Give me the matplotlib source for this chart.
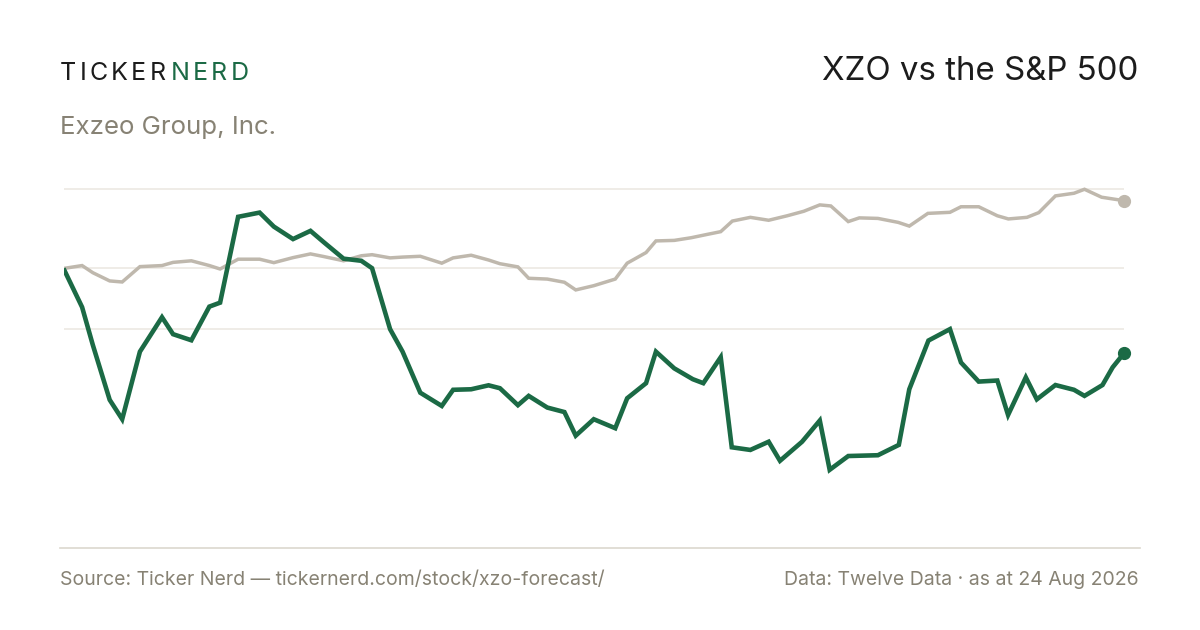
import matplotlib
matplotlib.use("Agg")
import matplotlib.pyplot as plt
from matplotlib.lines import Line2D

# day offsets (0 = 24 Aug 2025) and % change since start
xzo_days = [0, 6.4, 10.1, 15.9, 20.2, 26.3, 33.9, 37.7, 44.0, 50.2, 53.9, 60.1,
            67.5, 72.4, 79.0, 85.0, 89.6, 96.4, 102.5, 106.2, 112.4, 116.7, 122.8,
            130.2, 134.1, 140.3, 146.3, 150.2, 156.4, 160.1, 166.5, 172.4, 176.3,
            182.5, 189.9, 194.0, 200.5, 203.9, 210.2, 216.6, 220.2, 226.2, 230.0,
            236.4, 242.7, 246.6, 254.2, 260.3, 263.7, 270.1, 280.3, 287.5, 291.1,
            297.7, 305.1, 308.9, 315.0, 321.4, 325.1, 331.2, 335.0, 341.4, 347.8,
            351.4, 357.6, 361.1, 365]
xzo_pct = [0, -14.6, -28.9, -49.6, -56.9, -31.4, -18.4, -24.8, -27.1, -14.4, -12.9,
           19.5, 21.1, 15.8, 11.1, 14.2, 9.9, 3.7, 2.9, 0.1, -22.9, -31.4, -46.9,
           -51.9, -45.8, -45.6, -44.1, -45.2, -51.6, -48.1, -52.5, -54.2, -63.1,
           -56.9, -60.3, -49.0, -43.3, -31.4, -37.7, -41.8, -43.3, -33.5, -67.5,
           -68.5, -65.4, -72.6, -65.4, -57.4, -76.0, -70.8, -70.5, -66.6, -45.6,
           -27.2, -22.9, -35.5, -42.7, -42.3, -55.3, -41.1, -49.4, -44.0, -45.8,
           -48.1, -44.0, -37.3, -32.0]

spx_days = [0, 6.4, 10.1, 15.9, 20.2, 26.3, 33.9, 37.7, 44.0, 50.2, 53.9, 60.1,
            67.5, 72.4, 79.0, 85.0, 89.6, 96.4, 102.5, 106.2, 112.4, 116.7, 122.8,
            130.2, 134.1, 140.3, 146.3, 150.2, 156.4, 160.1, 166.5, 172.4, 176.3,
            182.5, 189.9, 194.0, 200.5, 203.9, 210.2, 216.0, 221.7, 226.2, 230.2,
            236.4, 242.7, 249.1, 254.8, 260.3, 264.1, 270.1, 273.9, 280.3, 287.3,
            291.1, 297.5, 305.1, 308.9, 315.0, 321.4, 325.2, 331.6, 335.7, 341.4,
            347.8, 351.4, 357.3, 365]
spx_pct = [0, 1.1, -1.6, -4.7, -5.1, 0.7, 1.1, 2.3, 2.9, 1.1, -0.2, 3.5, 3.5, 2.2,
           4.1, 5.5, 4.5, 2.9, 4.8, 5.2, 4.0, 4.3, 4.6, 2.0, 4.0, 5.0, 3.2, 1.8, 0.6,
           -3.7, -4.0, -5.2, -8.1, -6.5, -4.0, 2.0, 6.0, 10.4, 10.6, 11.6, 12.9,
           13.9, 17.9, 19.3, 18.2, 19.9, 21.6, 24.0, 23.6, 17.7, 19.1, 18.9, 17.4,
           16.0, 20.8, 21.2, 23.3, 23.3, 19.9, 18.7, 19.3, 21.1, 27.4, 28.4, 29.9,
           26.9, 25.6]

grid_levels = [30, 0, -23]

GREEN = "#1b6a45"
SAND = "#bfb8ad"
MUTED = "#878274"
INK = "#1c1c1c"
W, H = 1200, 630


def spaced_text(fig, x_px, y_px, s, color, size, track):
    r = fig.canvas.get_renderer()
    x = x_px
    for ch in s:
        t = fig.text(x / W, 1 - y_px / H, ch, color=color, fontsize=size,
                     family="Inter", va="baseline", ha="left")
        x += t.get_window_extent(renderer=r).width + track
    return x


def main():
    plt.rcParams["font.family"] = ["Inter", "DejaVu Sans"]
    fig = plt.figure(figsize=(12, 6.3), dpi=100)
    fig.patch.set_facecolor("white")

    ax = fig.add_axes([63.5 / W, 1 - 540 / H, 1060.5 / W, 360 / H])
    ax.set_xlim(0, 365)
    ax.set_ylim(-102.5, 33.4)
    ax.axis("off")

    for g in grid_levels:
        ax.axhline(g, color="#ece9e3", lw=1.2, zorder=1)

    ax.plot(spx_days, spx_pct, color=SAND, lw=2.5, zorder=2,
            solid_joinstyle="miter", solid_capstyle="butt")
    ax.plot(xzo_days, xzo_pct, color=GREEN, lw=3.3, zorder=3,
            solid_joinstyle="miter", solid_capstyle="butt")
    ax.plot(spx_days[-1], spx_pct[-1], "o", color=SAND, ms=8.5, zorder=4, clip_on=False)
    ax.plot(xzo_days[-1], xzo_pct[-1], "o", color=GREEN, ms=8.5, zorder=4, clip_on=False)

    # header
    x_end = spaced_text(fig, 60, 80, "TICKER", INK, 18, 3.2)
    spaced_text(fig, x_end + 2, 80, "NERD", GREEN, 18, 3.2)
    fig.text(60 / W, 1 - 134 / H, "Exzeo Group, Inc.", color=MUTED, fontsize=18.6,
             va="baseline", ha="left")
    fig.text(1138 / W, 1 - 80 / H, "XZO vs the S&P 500", color=INK, fontsize=23.8,
             va="baseline", ha="right")

    # footer
    fig.add_artist(Line2D([60 / W, 1140 / W], [1 - 548 / H, 1 - 548 / H],
                          color="#dcd8ce", lw=1.2))
    fig.text(60 / W, 1 - 585 / H, "Source: Ticker Nerd \u2014 tickernerd.com/stock/xzo-forecast/",
             color=MUTED, fontsize=14.0, va="baseline", ha="left")
    fig.text(1139 / W, 1 - 585 / H, "Data: Twelve Data \u00b7 as at 24 Aug 2026",
             color=MUTED, fontsize=14.0, va="baseline", ha="right")

    fig.savefig("out.png", dpi=100, facecolor="white")


if __name__ == "__main__":
    main()
